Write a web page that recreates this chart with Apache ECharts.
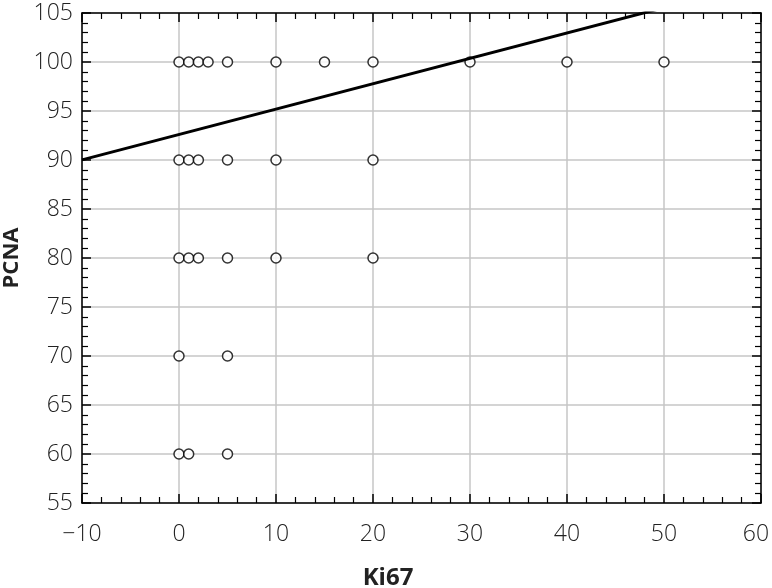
<!DOCTYPE html>
<html><head><meta charset="utf-8">
<script src="https://cdn.jsdelivr.net/npm/echarts@6/dist/echarts.min.js"></script>
<style>html,body{margin:0;padding:0;background:#fff}#c{width:772px;height:588px}</style>
</head><body><div id="c"></div>
<script>
const ki67 = [0,1,2,3,5,10,15,20,30,40,50, 0,1,2,5,10,20, 0,1,2,5,10,20, 0,5, 0,1,5];
const pcna = [100,100,100,100,100,100,100,100,100,100,100, 90,90,90,90,90,90, 80,80,80,80,80,80, 70,70, 60,60,60];
const fitIntercept = 92.6;
const fitSlope = 0.259;
const xTicks = [-10,0,10,20,30,40,50,60];
const yTicks = [55,60,65,70,75,80,85,90,95,100,105];

const xMin = xTicks[0], xMax = xTicks[xTicks.length-1];
const yMin = yTicks[0], yMax = yTicks[yTicks.length-1];
const pts = ki67.map((x,i)=>[x,pcna[i]]);
const fit = [[xMin, fitIntercept+fitSlope*xMin],[xMax, fitIntercept+fitSlope*xMax]];

const font = 'Open Sans';
const baseText = {fontFamily:font, fontSize:23, color:'#222', fontWeight:300};
function axisCommon(show, margin, isX){
  const lbl = show ? Object.assign({margin:margin}, baseText, {
    formatter: v => {
      const s = String(v).replace('-', '\u2212');
      return (isX && v === xMax) ? '{r|' + s + '}' : s;
    },
    rich: {r: Object.assign({padding:[0,10,0,0]}, baseText)}
  }) : {show:false};
  return {
    axisLine:{show:true, onZero:false, lineStyle:{color:'#000', width:1.5}},
    axisTick:{show:true, inside:true, length:9, lineStyle:{color:'#000', width:1.5}},
    minorTick:{show:true, splitNumber:5, length:6, lineStyle:{color:'#000', width:1.2}},
    axisLabel: lbl,
  };
}
const chart = echarts.init(document.getElementById('c'));
chart.setOption({
  animation:false,
  grid:{left:82, right:11, top:13, bottom:85, containLabel:false, outerBoundsMode:'none'},
  xAxis:[
    Object.assign({type:'value', min:xMin, max:xMax, interval:10, position:'bottom',
      name:'Ki67', nameLocation:'middle', nameGap:63,
      nameTextStyle:{fontFamily:font, fontSize:24, fontWeight:'bold', color:'#222', padding:[0,67,0,0]},
      splitLine:{show:true, lineStyle:{color:'#c6c6c6', width:1.5}}}, axisCommon(true, 20, true)),
    Object.assign({type:'value', min:xMin, max:xMax, interval:10, position:'top',
      splitLine:{show:false}}, axisCommon(false))
  ],
  yAxis:[
    Object.assign({type:'value', min:yMin, max:yMax, interval:5, position:'left',
      name:'PCNA', nameLocation:'middle', nameGap:59, nameRotate:90,
      nameTextStyle:{fontFamily:font, fontSize:22, fontWeight:'bold', color:'#222'},
      splitLine:{show:true, lineStyle:{color:'#c6c6c6', width:1.5}}}, axisCommon(true, 9, false)),
    Object.assign({type:'value', min:yMin, max:yMax, interval:5, position:'right',
      splitLine:{show:false}}, axisCommon(false))
  ],
  series:[
    {type:'scatter', data:pts, symbol:'circle', symbolSize:10,
     itemStyle:{color:'#fff', borderColor:'#000', borderWidth:1.5}, z:3},
    {type:'line', data:fit, symbol:'none', clip:true,
     lineStyle:{color:'#000', width:3}, z:4}
  ]
});
</script></body></html>
